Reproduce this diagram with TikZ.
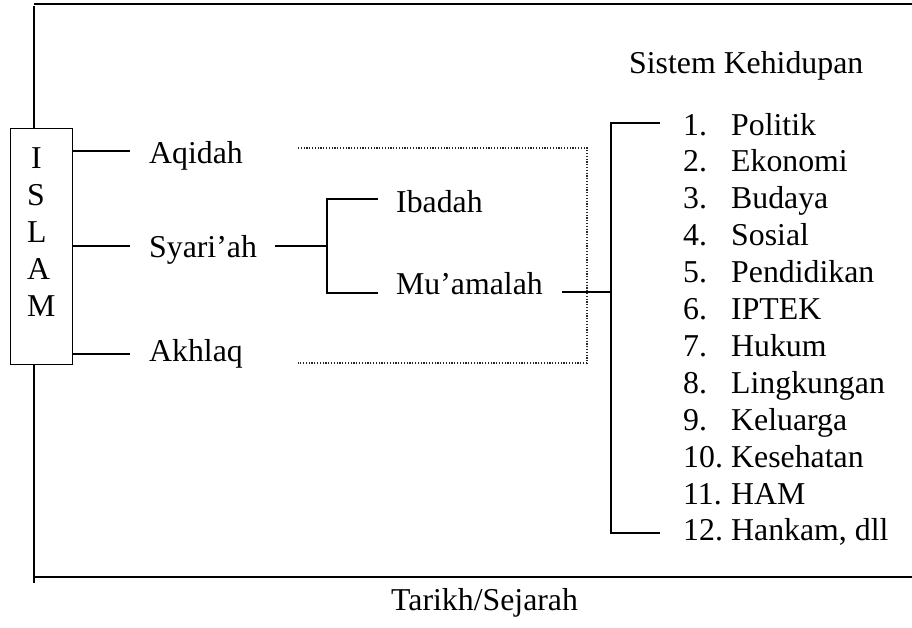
\documentclass[tikz,border=0pt]{standalone}
\usepackage{fontspec}
\setmainfont{Liberation Serif}
\begin{document}
\begin{tikzpicture}[x=1pt,y=-1pt,
  txt/.style={anchor=base west,inner sep=0pt,font=\fontsize{31.8}{36.9}\selectfont},
  ln/.style={line width=1.7pt},
  dotln/.style={line width=1.3pt,black!85,dash pattern=on 1.2pt off 1.6pt}]
\useasboundingbox (0,0) rectangle (912,627);
% frame
\coordinate (tl) at (34,4);
\coordinate (tr) at (912,4);
\coordinate (vtop) at (34,6);
\coordinate (vbot) at (34,583);
\coordinate (bl) at (34,577);
\coordinate (br) at (912,577);
\draw[line width=2.2pt] (tl) -- (tr);
\draw[line width=1.8pt] (bl) -- (br);
% ISLAM box
\node[draw,line width=1.4pt,minimum width=62pt,minimum height=236pt,inner sep=0pt,anchor=north west] (islam) at (10,128) {};
\draw[ln] (vtop) -- (vtop |- islam.north);
\draw[ln] (vtop |- islam.south) -- (vbot);
\node[txt] (lI) at (31,168) {I};
\node[txt] (lS) at (27,205) {S};
\node[txt] (lL) at (27,242) {L};
\node[txt] (lA) at (27,279) {A};
\node[txt] (lM) at (27,316) {M};
% level 1
\node[txt] (aqidah) at (149,163) {Aqidah};
\node[txt] (syariah) at (149,257) {Syari’ah};
\node[txt] (akhlaq) at (149,361) {Akhlaq};
\coordinate (a1) at (130,151);
\coordinate (s1) at (130,246);
\coordinate (k1) at (130,354);
\draw[ln] (islam.east |- a1) -- (a1);
\draw[ln] (islam.east |- s1) -- (s1);
\draw[ln] (islam.east |- k1) -- (k1);
% syariah bracket
\coordinate (s2) at (275,246);
\coordinate (bj) at (327,246);
\coordinate (bt) at (327,199);
\coordinate (bb) at (327,293);
\coordinate (it) at (378,199);
\coordinate (mt) at (378,293);
\draw[ln] (s2) -- (bj);
\draw[ln] (it) -- (bt) -- (bb) -- (mt);
\node[txt] (ibadah) at (396,212) {Ibadah};
\node[txt] (muamalah) at (396,294) {Mu’amalah};
% dotted box
\coordinate (d1) at (298,148);
\coordinate (d2) at (587,148);
\coordinate (d3) at (587,363);
\coordinate (d4) at (298,363);
\draw[dotln] (d1) -- (d2) -- (d3) -- (d4);
% right bracket
\coordinate (m1) at (562,292);
\coordinate (rj) at (611,292);
\coordinate (rt) at (611,123);
\coordinate (rb) at (611,533);
\coordinate (rtt) at (660,123);
\coordinate (rbb) at (660,533);
\draw[line width=1.5pt] (m1) -- (rj);
\draw[line width=1.5pt] (rtt) -- (rt) -- (rb) -- (rbb);
% list
\node[txt] (sk) at (629,73) {Sistem Kehidupan};
\foreach \n/\t [count=\k from 0] in {1./Politik,2./Ekonomi,3./Budaya,4./Sosial,5./Pendidikan,6./IPTEK,7./Hukum,8./Lingkungan,9./Keluarga,10./Kesehatan,11./HAM,12./{Hankam, dll}}{
  \node[txt] (n\k) at (683,135+36.9*\k) {\n};
  \node[txt] (t\k) at (731,135+36.9*\k) {\t};
}
\node[txt] (tarikh) at (391,610) {Tarikh/Sejarah};
\end{tikzpicture}
\end{document}
